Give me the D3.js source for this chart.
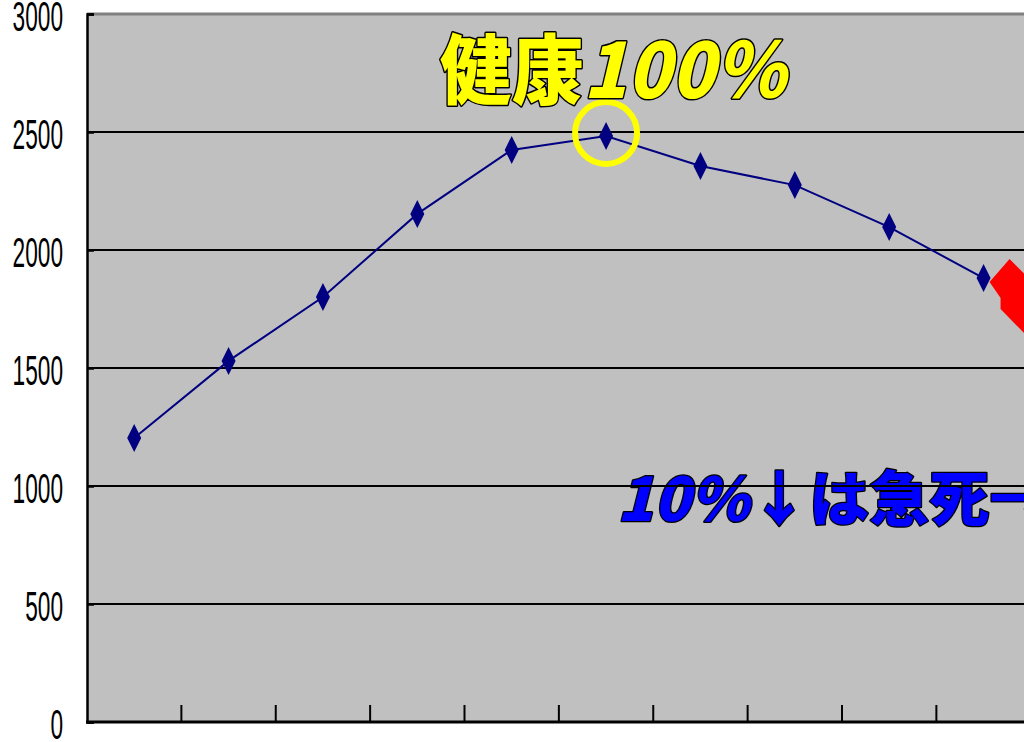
<!DOCTYPE html>
<html>
<head>
<meta charset="utf-8">
<script src="https://cdn.jsdelivr.net/npm/d3@7"></script>
<style>
  html, body { margin: 0; padding: 0; background: #ffffff; overflow: hidden; }
  svg { display: block; }
</style>
</head>
<body>
<svg id="chart" width="1024" height="742"></svg>
<script>
// Data
const categories = ["1", "2", "3", "4", "5", "6", "7", "8", "9", "10", "11", "12"];
const values = [1203, 1530, 1801, 2153, 2424, 2483, 2356, 2275, 2097, 1881];
const yTicks = [0, 500, 1000, 1500, 2000, 2500, 3000];
const peakIndex = 5;
// label pieces: [text, italic]
const titleParts = [["健康", false], ["100％", true]];
const warnParts = [["10%", true], ["↓は急死→", false]];

(function () {
const svg = d3.select("#chart");
const plotLeft = 87, plotTop = 14, plotBottom = 722;
const bandW = 94.375;

const x = d3.scaleBand()
  .domain(categories)
  .range([plotLeft, plotLeft + bandW * categories.length])
  .paddingInner(0).paddingOuter(0);

const y = d3.scaleLinear().domain([0, 3000]).range([plotBottom, plotTop]);

function outlinedText(parent, parts, opts) {
  const t = parent.append("text")
    .attr("x", opts.x).attr("y", opts.y)
    .attr("font-family", "'Noto Sans CJK JP', sans-serif")
    .attr("font-weight", 900)
    .attr("font-size", opts.size)
    .attr("fill", opts.fill)
    .attr("stroke", "#000")
    .attr("stroke-width", opts.stroke)
    .attr("paint-order", "stroke")
    .attr("stroke-linejoin", "round");
  t.selectAll("tspan").data(parts).join("tspan")
    .attr("font-style", d => d[1] ? "italic" : "normal")
    .text(d => d[0]);
  return t;
}

// plot background
svg.append("rect")
  .attr("x", plotLeft).attr("y", plotTop)
  .attr("width", x.range()[1] - plotLeft).attr("height", plotBottom - plotTop)
  .attr("fill", "#c0c0c0");

// warning text sits behind the gridlines
outlinedText(svg, warnParts, { x: 617, y: 521, size: 60, fill: "#0000ff", stroke: 2.5 });

// horizontal gridlines
svg.append("g").selectAll("line")
  .data(yTicks.filter(d => d > 0 && d < 3000))
  .join("line")
  .attr("x1", plotLeft).attr("x2", 1024)
  .attr("y1", d => y(d)).attr("y2", d => y(d))
  .attr("stroke", "#000").attr("stroke-width", 2);

// top border
svg.append("line")
  .attr("x1", plotLeft).attr("x2", 1024)
  .attr("y1", plotTop).attr("y2", plotTop)
  .attr("stroke", "#808080").attr("stroke-width", 3);

// y axis
const yAxis = d3.axisLeft(y).tickValues(yTicks).tickSize(-7).tickPadding(24).tickFormat(d3.format("d"));
const gy = svg.append("g").attr("transform", `translate(${plotLeft},0)`).call(yAxis);
gy.select(".domain").attr("stroke", "#000").attr("stroke-width", 2.5);
gy.selectAll(".tick line").attr("stroke", "#000").attr("stroke-width", 2.5);
gy.selectAll(".tick text")
  .attr("font-family", "'Liberation Sans Narrow', 'Liberation Sans', sans-serif")
  .attr("font-size", 42)
  .attr("fill", "#000")
  .attr("text-anchor", "end")
  .attr("dy", "0.4em")
  .attr("x", 0)
  .attr("transform", "translate(-24,0) scale(0.54,1)");

// x axis: ticks between categories, pointing inward
const boundaries = categories.slice(1).map(c => x(c));
svg.append("g").selectAll("line")
  .data(boundaries)
  .join("line")
  .attr("x1", d => d).attr("x2", d => d)
  .attr("y1", plotBottom).attr("y2", plotBottom - 17)
  .attr("stroke", "#000").attr("stroke-width", 2);
svg.append("line")
  .attr("x1", plotLeft - 1).attr("x2", 1024)
  .attr("y1", plotBottom).attr("y2", plotBottom)
  .attr("stroke", "#000").attr("stroke-width", 3);

// series line
const cx = (d, i) => x(categories[i]) + x.bandwidth() / 2;
const line = d3.line().x(cx).y(d => y(d));
svg.append("path")
  .datum(values)
  .attr("d", line)
  .attr("fill", "none")
  .attr("stroke", "#000080")
  .attr("stroke-width", 2);

// diamond markers
svg.append("g").selectAll("path")
  .data(values)
  .join("path")
  .attr("transform", (d, i) => `translate(${cx(d, i)},${y(d)})`)
  .attr("d", "M0,-14 L7,0 L0,14 L-7,0 Z")
  .attr("fill", "#000080");

// red block arrow pointing back at the last point
const lastX = cx(values[values.length - 1], values.length - 1);
const lastY = y(values[values.length - 1]);
svg.append("path")
  .attr("transform", `translate(${lastX + 6},${lastY + 4})`)
  .attr("d", "M0,0 L20,-23 L90,47 L60,77 L11,27 L11,16 Z")
  .attr("fill", "#ff0000");

// highlight ring on the peak
svg.append("circle")
  .attr("cx", cx(values[peakIndex], peakIndex))
  .attr("cy", y(values[peakIndex]) - 3)
  .attr("r", 31)
  .attr("fill", "none")
  .attr("stroke", "#ffff00")
  .attr("stroke-width", 6);

// title label
outlinedText(svg, titleParts, { x: 440, y: 98, size: 76, fill: "#ffff00", stroke: 3 })
  .attr("textLength", 346)
  .attr("lengthAdjust", "spacingAndGlyphs");
})();
</script>
</body>
</html>
